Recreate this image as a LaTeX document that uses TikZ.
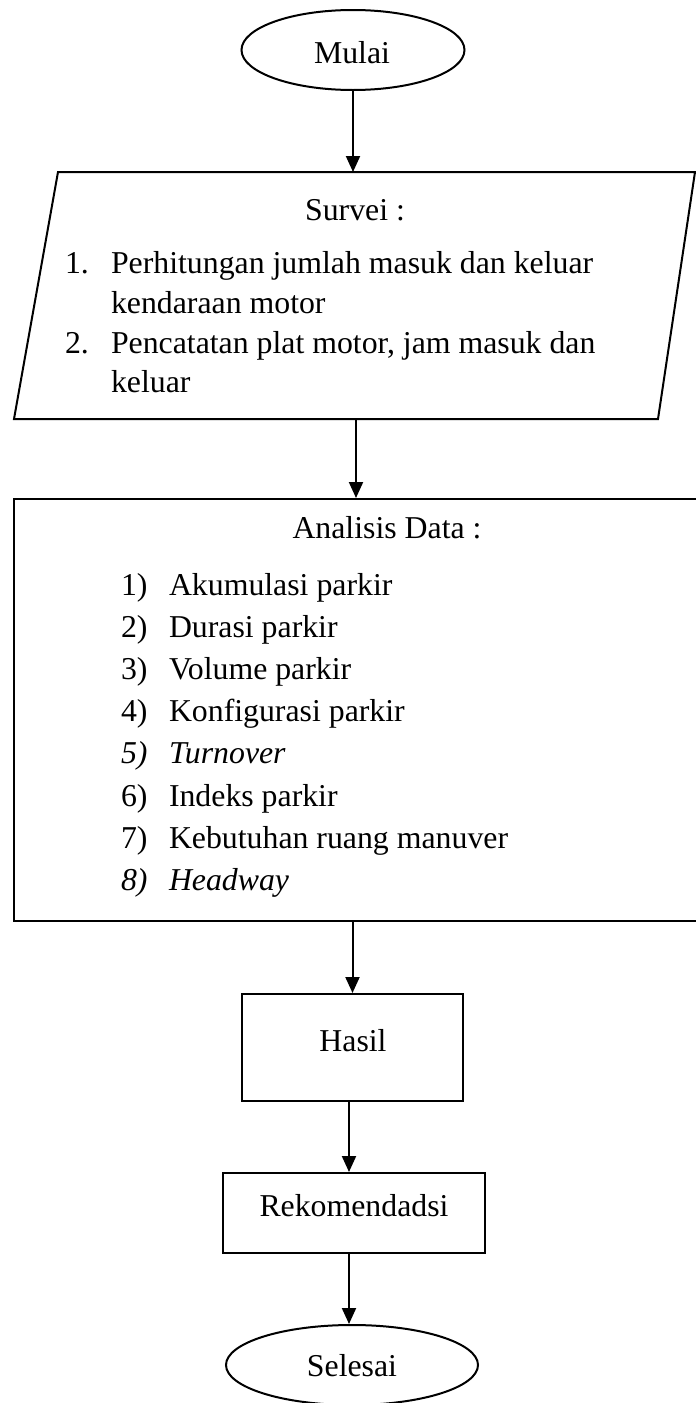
\documentclass[tikz,border=0pt]{standalone}
\usepackage{fontspec}
\setmainfont{Liberation Serif}
\usetikzlibrary{arrows.meta,shapes.geometric}
\begin{document}
\begin{tikzpicture}[x=1pt,y=-1pt,
  line width=2pt,
  txt/.style={inner sep=0pt, font=\fontsize{31.8pt}{40pt}\selectfont},
  term/.style={ellipse, draw, inner sep=0pt, minimum height=80pt},
  box/.style={rectangle, draw, inner sep=0pt},
  arr/.style={-{Triangle[length=16pt,width=14pt]}}]
\useasboundingbox (0,0) rectangle (696,1403);
\clip (0,0) rectangle (696,1403);

% Mulai
\node[term, minimum width=223pt] (mulai) at (353,50) {};
\node[txt, anchor=base] (mulaiT) at (352,63) {Mulai};

% Survei (parallelogram)
\coordinate (sTL) at (58,172);
\coordinate (sTR) at (695,172);
\coordinate (sBR) at (658,419);
\coordinate (sBL) at (14,419);
\coordinate (sOut) at (356,419);
\draw[line join=miter] (sTL) -- (sTR) -- (sBR) -- (sBL) -- cycle;
\node[txt, anchor=base] (survT) at (355,220) {Survei :};
\node[txt, anchor=base west] (s1n) at (64,273) {1.};
\node[txt, anchor=base west] (s1a) at (110,273) {Perhitungan jumlah masuk dan keluar};
\node[txt, anchor=base west] (s1b) at (110,313) {kendaraan motor};
\node[txt, anchor=base west] (s2n) at (64,353) {2.};
\node[txt, anchor=base west] (s2a) at (110,353) {Pencatatan plat motor, jam masuk dan};
\node[txt, anchor=base west] (s2b) at (110,392) {keluar};

% Analisis Data
\node[box, minimum width=697pt, minimum height=422pt, anchor=north west] (analisis) at (13,498) {};
\node[txt, anchor=base] (anT) at (387,538) {Analisis Data :};
\foreach \i/\lab/\t in {0/{1)}/{Akumulasi parkir},1/{2)}/{Durasi parkir},2/{3)}/{Volume parkir},3/{4)}/{Konfigurasi parkir},5/{6)}/{Indeks parkir},6/{7)}/{Kebutuhan ruang manuver}}{
  \node[txt, anchor=base west] (an\i n) at (120,595+42.2*\i) {\lab};
  \node[txt, anchor=base west] (an\i t) at (168,595+42.2*\i) {\t};
}
\node[txt, anchor=base west] (an4n) at (120,595+42.2*4) {\itshape 5)};
\node[txt, anchor=base west] (an4t) at (168,595+42.2*4) {\itshape Turnover};
\node[txt, anchor=base west] (an7n) at (120,595+42.2*7) {\itshape 8)};
\node[txt, anchor=base west] (an7t) at (168,595+42.2*7) {\itshape Headway};

% Hasil
\node[box, minimum width=221pt, minimum height=107pt] (hasil) at (352.5,1047.5) {};
\node[txt, anchor=base] (hasilT) at (353,1051) {Hasil};

% Rekomendadsi
\node[box, minimum width=262pt, minimum height=80pt] (rekom) at (354,1213) {};
\node[txt, anchor=base] (rekomT) at (354,1216) {Rekomendadsi};

% Selesai
\node[term, minimum width=252pt] (selesai) at (352,1365) {};
\node[txt, anchor=base] (selesaiT) at (352,1376) {Selesai};

% connectors
\draw[arr] (mulai.south) -- (mulai.south |- sTL);
\draw[arr] (sOut) -- (sOut |- analisis.north);
\draw[arr] (hasil.north |- analisis.south) -- (hasil.north);
\draw[arr] ([xshift=-3.5pt]hasil.south) -- ([xshift=-3.5pt]hasil.south |- rekom.north);
\draw[arr] ([xshift=-5pt]rekom.south) -- ([xshift=-5pt]rekom.south |- selesai.north);
\end{tikzpicture}
\end{document}
